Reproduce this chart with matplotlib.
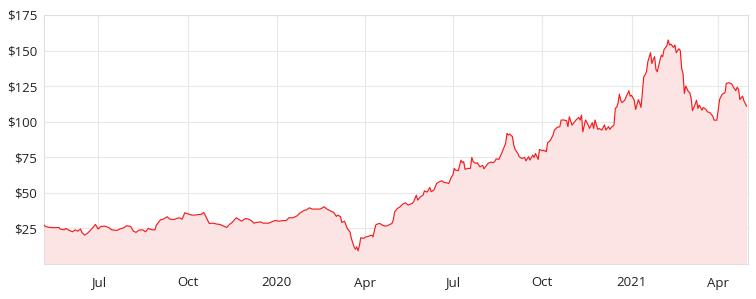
import numpy as np
import matplotlib
matplotlib.use("Agg")
import matplotlib.pyplot as plt

# ---- data -------------------------------------------------------------
start_date = "2019-05-06"          # first trading day shown
# trading-day number (business days after start_date)
trading_day = [
    0, 1, 4, 8, 11, 12, 15, 16, 18, 21, 23, 25, 27, 28, 30, 32, 34, 36, 38, 40,
    42, 45, 48, 50, 54, 56, 59, 61, 64, 66, 68, 70, 73, 75, 77, 80, 82, 83, 86, 88,
    91, 93, 96, 98, 100, 102, 104, 106, 109, 112, 114, 116, 118, 120, 122, 125, 128, 130, 132, 135,
    137, 139, 142, 144, 146, 148, 149, 151, 153, 155, 157, 160, 162, 166, 168, 171, 173, 176, 179, 181,
    184, 187, 189, 192, 194, 196, 198, 201, 204, 207, 209, 211, 214, 216, 217, 219, 220, 222, 224, 226,
    227, 229, 230, 231, 232, 233, 234, 236, 238, 240, 242, 243, 245, 246, 248, 250, 252, 254, 257, 258,
    259, 261, 263, 265, 267, 269, 272, 273, 275, 276, 278, 280, 281, 283, 285, 286, 288, 290, 292, 294,
    295, 297, 299, 301, 302, 303, 304, 306, 308, 309, 310, 311, 313, 315, 316, 317, 319, 320, 322, 324,
    325, 327, 328, 330, 332, 333, 334, 336, 337, 338, 339, 341, 342, 343, 344, 346, 347, 348, 350, 351,
    353, 355, 356, 358, 359, 361, 362, 363, 365, 366, 368, 369, 371, 372, 374, 376, 377, 379, 381, 382,
    384, 386, 387, 388, 390, 391, 393, 395, 396, 397, 398, 399, 400, 402, 403, 405, 406, 407, 409, 410,
    412, 414, 415, 417, 418, 419, 421, 422, 423, 424, 425, 426, 427, 429, 430, 432, 433, 434, 436, 437,
    439, 440, 441, 443, 444, 445, 446, 448, 449, 450, 451, 452, 453, 455, 456, 457, 458, 460, 461, 462,
    463, 465, 466, 467, 469, 470, 471, 472, 473, 474, 476, 477, 478, 479, 481, 482, 483, 484, 486, 487,
    489, 490, 492, 494, 495, 497, 498, 499, 501, 503, 504, 506, 508, 509, 511, 512, 513, 514, 516, 517,
    519,
]
price = [
    27.3, 26.4, 25.7, 25.5, 25.7, 24.6, 24.0, 25.0, 24.0, 22.6, 24.0, 23.1, 24.6, 22.2, 20.3, 21.5, 23.4, 25.5, 27.8, 24.6,
    26.4, 26.6, 25.5, 24.0, 23.6, 24.6, 25.5, 26.9, 26.4, 23.1, 22.2, 23.8, 24.0, 22.6, 25.0, 24.0, 24.0, 27.3, 31.0, 31.5,
    33.2, 31.5, 31.3, 32.0, 32.5, 31.5, 36.0, 35.3, 34.4, 34.4, 34.8, 34.8, 36.2, 32.5, 28.5, 28.7, 28.0, 27.8, 26.9, 25.7,
    27.8, 29.2, 32.5, 31.3, 30.1, 31.5, 32.0, 31.5, 30.6, 28.7, 29.2, 29.6, 28.7, 28.7, 29.6, 30.6, 30.1, 30.4, 30.6, 32.5,
    32.5, 33.9, 35.8, 37.6, 38.1, 39.5, 38.6, 38.6, 38.6, 40.2, 38.6, 37.6, 36.2, 33.4, 34.4, 33.2, 29.2, 30.1, 25.0, 22.6,
    18.0, 12.1, 10.4, 12.1, 9.3, 13.0, 18.5, 18.0, 19.1, 19.6, 20.3, 19.1, 27.3, 28.0, 28.5, 27.3, 26.6, 27.1, 28.5, 30.8,
    36.7, 39.0, 40.2, 42.1, 43.0, 41.4, 42.6, 43.7, 48.4, 44.9, 47.2, 48.4, 51.4, 50.5, 53.8, 50.8, 52.0, 56.6, 57.8, 58.5,
    57.5, 57.1, 56.6, 61.3, 62.4, 67.2, 66.0, 65.6, 73.0, 71.2, 71.9, 66.5, 67.2, 67.2, 74.9, 71.9, 70.7, 71.2, 68.3, 69.3,
    66.9, 69.5, 70.7, 71.6, 71.2, 72.1, 73.9, 73.5, 75.8, 77.7, 80.0, 84.8, 91.8, 90.6, 91.3, 89.5, 83.6, 80.5, 77.7, 75.4,
    74.2, 74.9, 72.5, 75.4, 73.0, 76.6, 74.9, 77.7, 73.5, 80.5, 79.6, 80.0, 78.9, 85.2, 86.8, 90.6, 94.1, 96.0, 96.5, 101.2,
    101.2, 100.7, 96.5, 103.5, 97.6, 98.8, 101.2, 103.0, 101.2, 104.7, 92.9, 96.9, 101.2, 97.6, 95.3, 99.3, 95.3, 101.2, 94.6, 95.3,
    94.1, 97.8, 94.1, 96.5, 94.6, 96.0, 97.6, 109.4, 110.1, 112.9, 119.4, 115.1, 113.4, 115.1, 117.5, 121.7, 118.0, 118.5, 115.0, 108.6,
    115.5, 113.2, 110.0, 131.6, 132.8, 135.1, 142.1, 148.5, 140.9, 143.7, 145.7, 136.8, 135.1, 143.3, 146.8, 145.7, 150.8, 153.2, 157.4, 153.9,
    154.6, 152.2, 153.9, 148.5, 151.3, 149.9, 137.5, 133.9, 119.9, 125.1, 121.1, 120.4, 116.4, 107.7, 112.4, 115.1, 109.3, 111.7, 108.1, 110.0,
    108.6, 107.0, 106.3, 103.9, 101.1, 101.1, 108.1, 115.6, 119.4, 120.4, 127.0, 127.4, 126.5, 124.6, 121.8, 124.2, 122.8, 115.6, 118.0, 114.6,
    111.0,
]
end_trading_day = 520

tick_dates = ["2019-07-01", "2019-10-01", "2020-01-01", "2020-04-01",
              "2020-07-01", "2020-10-01", "2021-01-01", "2021-04-01"]
tick_labels = ["Jul", "Oct", "2020", "Apr", "Jul", "Oct", "2021", "Apr"]
y_ticks = [25, 50, 75, 100, 125, 150, 175]

# ---- plot -------------------------------------------------------------
plt.rcParams["font.family"] = ["Open Sans", "DejaVu Sans"]

fig = plt.figure(figsize=(7.56, 2.99), dpi=100)
ax = fig.add_axes([44 / 756, 1 - 264 / 299, (748 - 44) / 756, (264 - 15) / 299])

x = np.array(trading_day)
y = np.array(price)
ax.fill_between(x, y, 0, color="#fde4e4", lw=0, zorder=1)
ax.plot(x, y, color="#f51c1c", lw=0.85, zorder=3)

ax.set_xlim(0, end_trading_day)
ax.set_ylim(0, 175)

tick_pos = [np.busday_count(start_date, d) for d in tick_dates]
ax.set_xticks(tick_pos)
ax.set_xticklabels(tick_labels)
ax.set_yticks(y_ticks)
ax.set_yticklabels([f"${v}" for v in y_ticks])

ax.grid(True, color="#e8e8e8", lw=0.8, zorder=0)
ax.set_axisbelow(True)
for s in ax.spines.values():
    s.set_color("#e0e0e0")
    s.set_linewidth(0.8)
ax.tick_params(axis="both", length=0, labelsize=9.5, colors="#222222")
ax.tick_params(axis="x", pad=9)
ax.tick_params(axis="y", pad=5)

fig.savefig("out.png", dpi=100, facecolor="white")
